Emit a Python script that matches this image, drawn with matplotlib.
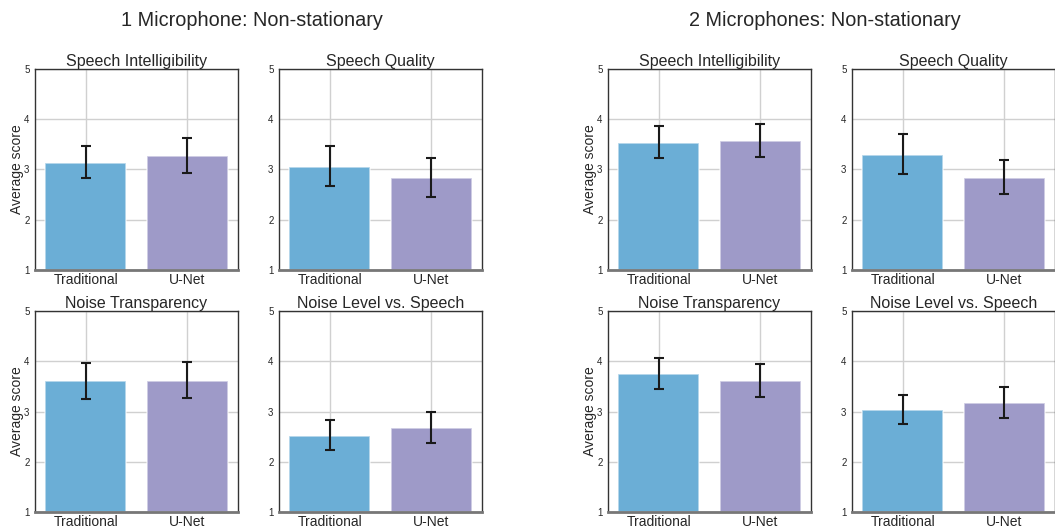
import matplotlib.pyplot as plt

plt.rcParams['font.family'] = ['Liberation Sans', 'DejaVu Sans']

methods = ['Traditional', 'U-Net']
metrics = ['Speech Intelligibility', 'Speech Quality',
           'Noise Transparency', 'Noise Level vs. Speech']
group_titles = ['1 Microphone: Non-stationary', '2 Microphones: Non-stationary']

# mean scores per metric, [Traditional, U-Net]
mean_1mic = [[3.13, 3.26], [3.05, 2.84], [3.60, 3.61], [2.52, 2.68]]
mean_2mic = [[3.53, 3.57], [3.29, 2.84], [3.75, 3.60], [3.03, 3.16]]

# error bar ends (lower, upper)
low_1mic = [[2.84, 2.94], [2.67, 2.46], [3.25, 3.26], [2.24, 2.38]]
high_1mic = [[3.46, 3.62], [3.47, 3.23], [3.97, 3.99], [2.84, 2.99]]
low_2mic = [[3.23, 3.25], [2.92, 2.52], [3.45, 3.28], [2.75, 2.88]]
high_2mic = [[3.86, 3.90], [3.70, 3.19], [4.07, 3.95], [3.33, 3.48]]

bar_colors = ['#6baed6', '#9e9ac8']
text_color = '#262626'

W, H = 1055, 529
fig = plt.figure(figsize=(W / 100, H / 100), dpi=100)

col_left = [[35, 279], [608, 852]]
row_top = [69, 311]
ax_w, ax_h = 203, 201

groups = [(mean_1mic, low_1mic, high_1mic), (mean_2mic, low_2mic, high_2mic)]

for g, (means, lows, highs) in enumerate(groups):
    for k, metric in enumerate(metrics):
        r, c = divmod(k, 2)
        left = col_left[g][c]
        top = row_top[r]
        ax = fig.add_axes([left / W, (H - top - ax_h) / H, ax_w / W, ax_h / H])
        x = list(range(len(methods)))
        m = means[k]
        yerr = [[m[i] - lows[k][i] for i in x], [highs[k][i] - m[i] for i in x]]
        ax.bar(x, [v - 1 for v in m], bottom=1, width=0.8, color=bar_colors,
               edgecolor=(1, 1, 1, 0.6), linewidth=1.2, zorder=2)
        ax.errorbar(x, m, yerr=yerr, fmt='none', ecolor='#1a1a1a',
                    elinewidth=1.5, capsize=3.5, capthick=1.5, zorder=3)
        ax.set_xlim(-0.5, 1.5)
        ax.set_ylim(1, 5)
        ax.set_yticks([1, 2, 3, 4, 5])
        ax.set_xticks(x)
        ax.set_xticklabels(methods, fontsize=10, color=text_color)
        ax.tick_params(axis='y', labelsize=7, colors=text_color, length=0, pad=4)
        ax.tick_params(axis='x', length=0, pad=2)
        ax.grid(True, color='#d0d0d0', linewidth=1, zorder=0)
        ax.set_axisbelow(True)
        for side in ['top', 'right', 'left']:
            ax.spines[side].set_color('#333333')
            ax.spines[side].set_linewidth(1)
        ax.spines['bottom'].set_color('#777777')
        ax.spines['bottom'].set_linewidth(2)
        ax.set_title(metric, fontsize=11.5, color=text_color, pad=1)
        if c == 0:
            ax.set_ylabel('Average score', fontsize=10, color=text_color, labelpad=0)

    # group heading, a little left of the group centre
    cx = (col_left[g][0] + col_left[g][1] + ax_w) / 2 - 7
    fig.text(cx / W, 1 - 20 / H, group_titles[g], ha='center', va='center',
             fontsize=14.3, color=text_color)

fig.savefig('out.png', dpi=100)
